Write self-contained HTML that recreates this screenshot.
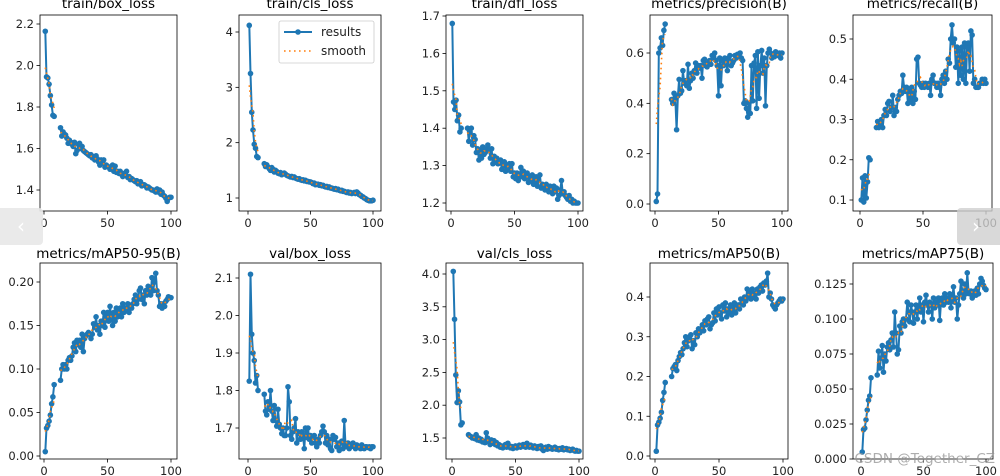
<!DOCTYPE html>
<html><head><meta charset="utf-8"><style>
html,body{margin:0;padding:0;background:#fff;}
svg{display:block;font-family:"DejaVu Sans","Liberation Sans",sans-serif;}
</style></head><body>
<svg id="chart" width="1000" height="476" viewBox="0 0 1000 476" xmlns="http://www.w3.org/2000/svg">
<rect width="1000" height="476" fill="#fff"/>
</svg>
<script>
const N=null;
const trainBoxLoss=[2.165,1.945,1.94,1.91,1.855,1.81,1.76,1.755,N,N,N,N,1.70,1.66,1.68,1.67,1.665,1.65,1.625,1.64,1.63,1.62,1.61,1.63,1.575,1.59,1.62,1.625,1.60,1.61,1.59,1.585,1.58,1.575,1.57,1.565,1.57,1.555,1.56,1.545,1.565,1.55,1.535,1.52,1.545,1.53,1.545,1.51,1.52,1.515,1.51,1.50,1.505,1.52,1.49,1.515,1.485,1.49,1.48,1.49,1.475,1.465,1.48,1.47,1.49,1.46,1.465,1.45,1.455,1.45,1.445,1.44,1.445,1.43,1.43,1.44,1.42,1.425,1.425,1.42,1.41,1.415,1.41,1.405,1.40,1.40,1.395,1.39,1.405,1.39,1.40,1.38,1.39,1.375,1.37,1.36,1.345,1.36,1.365,1.365];
const trainClsLoss=[4.12,3.25,2.55,2.23,1.97,1.90,1.75,1.73,N,N,N,N,1.62,1.57,1.60,1.56,1.53,1.50,1.55,1.52,1.47,1.50,1.48,1.45,1.44,1.46,1.42,1.44,1.45,1.43,1.41,1.40,1.39,1.38,1.39,1.37,1.38,1.36,1.35,1.34,1.35,1.33,1.32,1.33,1.31,1.32,1.30,1.30,1.29,1.29,1.28,1.26,1.27,1.24,1.25,1.25,1.23,1.24,1.22,1.23,1.21,1.20,1.21,1.19,1.20,1.18,1.18,1.17,1.16,1.17,1.15,1.16,1.14,1.13,1.14,1.12,1.12,1.11,1.10,1.11,1.09,1.10,1.08,1.09,1.10,1.08,1.11,1.09,1.06,1.05,1.03,1.02,1.00,0.99,0.97,0.96,0.95,0.95,0.95,0.96];
const trainDflLoss=[1.68,1.47,1.45,1.475,1.42,1.435,1.39,1.40,N,N,N,N,1.40,1.365,1.39,1.40,1.355,1.38,1.37,1.335,1.345,1.315,1.34,1.32,1.35,1.33,1.335,1.345,1.355,1.34,1.32,1.345,1.305,1.325,1.31,1.32,1.305,1.31,1.315,1.29,1.30,1.31,1.285,1.30,1.295,1.305,1.285,1.305,1.27,1.28,1.265,1.28,1.26,1.27,1.295,1.27,1.285,1.265,1.275,1.28,1.255,1.27,1.26,1.275,1.25,1.26,1.27,1.245,1.26,1.275,1.24,1.25,1.245,1.235,1.25,1.24,1.23,1.245,1.24,1.225,1.245,1.23,1.24,1.21,1.22,1.235,1.26,1.225,1.23,1.22,1.215,1.21,1.22,1.205,1.21,1.20,1.205,1.20,1.20,1.20];
const precision=[0.01,0.04,0.60,0.62,0.66,0.63,0.69,0.715,N,N,N,N,0.415,0.40,0.44,0.42,0.295,0.43,0.495,0.44,0.45,0.53,0.48,0.49,0.47,0.555,0.46,0.49,0.52,0.50,0.53,0.56,0.52,0.55,0.54,0.55,0.50,0.57,0.575,0.55,0.545,0.56,0.57,0.555,0.59,0.58,0.60,0.57,0.55,0.43,0.58,0.47,0.57,0.55,0.58,0.57,0.53,0.58,0.59,0.55,0.56,0.57,0.59,0.58,0.595,0.59,0.60,0.58,0.57,0.40,0.41,0.38,0.345,0.40,0.36,0.55,0.41,0.56,0.59,0.38,0.605,0.42,0.55,0.61,0.52,0.58,0.39,0.55,0.60,0.615,0.60,0.58,0.59,0.585,0.605,0.595,0.59,0.60,0.58,0.60];
const recall=[0.10,0.155,0.095,0.16,0.105,0.145,0.205,0.20,N,N,N,N,0.28,0.295,0.28,0.29,0.30,0.28,0.31,0.325,0.31,0.34,0.345,0.32,0.33,0.36,0.31,0.33,0.32,0.35,0.36,0.37,0.365,0.41,0.38,0.37,0.38,0.34,0.37,0.35,0.38,0.34,0.37,0.35,0.45,0.455,0.39,0.385,0.38,0.39,0.38,0.39,0.385,0.38,0.39,0.36,0.40,0.41,0.39,0.39,0.38,0.39,0.38,0.36,0.40,0.41,0.39,0.42,0.40,0.45,0.44,0.50,0.535,0.49,0.50,0.43,0.48,0.39,0.47,0.41,0.48,0.40,0.49,0.39,0.48,0.49,0.42,0.52,0.51,0.39,0.40,0.38,0.38,0.38,0.39,0.39,0.40,0.39,0.40,0.39];
const map5095=[0.005,0.032,0.035,0.04,0.047,0.06,0.068,0.082,N,N,N,N,0.087,0.10,0.105,0.10,0.105,0.10,0.11,0.113,0.11,0.115,0.125,0.13,0.12,0.133,0.128,0.133,0.125,0.14,0.12,0.135,0.138,0.14,0.142,0.14,0.135,0.14,0.152,0.148,0.16,0.145,0.15,0.14,0.155,0.15,0.165,0.148,0.16,0.165,0.155,0.172,0.16,0.15,0.165,0.155,0.17,0.16,0.165,0.17,0.16,0.175,0.165,0.17,0.168,0.175,0.165,0.172,0.17,0.175,0.18,0.185,0.175,0.18,0.19,0.193,0.18,0.185,0.175,0.19,0.185,0.195,0.19,0.185,0.205,0.19,0.20,0.21,0.19,0.185,0.172,0.175,0.17,0.175,0.172,0.178,0.18,0.183,0.182,0.182];
const valBoxLoss=[1.825,2.11,1.95,1.90,1.88,1.82,1.84,1.80,N,N,N,N,1.79,1.745,1.735,1.77,1.75,1.80,1.745,1.72,1.76,1.72,1.705,1.75,1.71,1.70,1.685,1.70,1.68,1.68,1.70,1.81,1.77,1.68,1.67,1.69,1.70,1.725,1.66,1.69,1.685,1.67,1.69,1.68,1.645,1.70,1.675,1.70,1.67,1.68,1.66,1.675,1.68,1.66,1.65,1.67,1.66,1.68,1.69,1.705,1.69,1.66,1.68,1.655,1.67,1.645,1.64,1.68,1.67,1.675,1.65,1.66,1.64,1.66,1.665,1.645,1.72,1.655,1.65,1.66,1.645,1.65,1.655,1.66,1.65,1.645,1.655,1.65,1.65,1.645,1.655,1.65,1.645,1.65,1.65,1.648,1.65,1.645,1.65,1.65];
const valClsLoss=[4.04,3.31,2.46,2.04,2.22,2.05,1.70,1.73,N,N,N,N,1.55,1.53,1.52,1.50,1.51,1.49,1.55,1.47,1.50,1.46,1.48,1.44,1.45,1.43,1.58,1.50,1.44,1.40,1.47,1.42,1.46,1.40,1.43,1.38,1.40,1.36,1.38,1.35,1.37,1.40,1.36,1.42,1.38,1.35,1.37,1.34,1.36,1.38,1.35,1.37,1.39,1.36,1.38,1.40,1.37,1.36,1.42,1.38,1.36,1.39,1.37,1.35,1.38,1.36,1.34,1.37,1.35,1.38,1.33,1.31,1.35,1.36,1.33,1.37,1.34,1.35,1.33,1.34,1.36,1.33,1.34,1.32,1.34,1.33,1.35,1.32,1.33,1.34,1.32,1.33,1.31,1.32,1.33,1.31,1.30,1.31,1.30,1.30];
const map50=[0.012,0.078,0.085,0.095,0.11,0.14,0.16,0.185,N,N,N,N,0.20,0.22,0.225,0.23,0.215,0.24,0.25,0.26,0.255,0.27,0.285,0.30,0.275,0.29,0.30,0.305,0.27,0.29,0.28,0.31,0.30,0.32,0.31,0.32,0.33,0.315,0.34,0.33,0.345,0.35,0.32,0.33,0.335,0.36,0.34,0.37,0.355,0.375,0.36,0.345,0.38,0.365,0.385,0.35,0.37,0.36,0.38,0.355,0.37,0.385,0.36,0.375,0.38,0.37,0.395,0.385,0.38,0.40,0.39,0.42,0.40,0.415,0.395,0.42,0.40,0.41,0.395,0.42,0.41,0.425,0.43,0.415,0.435,0.43,0.44,0.46,0.40,0.41,0.395,0.38,0.375,0.37,0.38,0.385,0.39,0.395,0.39,0.395];
const map75=[0.005,0.021,0.022,0.028,0.035,0.042,0.045,0.058,N,N,N,N,0.06,0.077,0.065,0.072,0.081,0.062,0.075,0.07,0.08,0.083,0.078,0.085,0.09,0.08,0.105,0.09,0.075,0.078,0.095,0.09,0.098,0.10,0.095,0.10,0.112,0.105,0.098,0.11,0.105,0.097,0.105,0.11,0.10,0.108,0.115,0.105,0.11,0.098,0.112,0.117,0.11,0.105,0.112,0.11,0.10,0.115,0.108,0.112,0.11,0.115,0.099,0.112,0.115,0.11,0.118,0.112,0.115,0.112,0.118,0.108,0.115,0.123,0.112,0.115,0.10,0.11,0.118,0.127,0.12,0.115,0.125,0.118,0.133,0.12,0.118,0.12,0.115,0.118,0.12,0.117,0.122,0.118,0.125,0.129,0.127,0.124,0.122,0.121];
const xTicks=[0,50,100];
const titles=["train/box_loss","train/cls_loss","train/dfl_loss","metrics/precision(B)","metrics/recall(B)","metrics/mAP50-95(B)","val/box_loss","val/cls_loss","metrics/mAP50(B)","metrics/mAP75(B)"];
const series=[trainBoxLoss,trainClsLoss,trainDflLoss,precision,recall,map5095,valBoxLoss,valClsLoss,map50,map75];
const yTickSets=[[1.4,1.6,1.8,2.0,2.2],[1,2,3,4],[1.2,1.3,1.4,1.5,1.6,1.7],[0.0,0.2,0.4,0.6],[0.1,0.2,0.3,0.4,0.5],[0.00,0.05,0.10,0.15,0.20],[1.7,1.8,1.9,2.0,2.1],[1.5,2.0,2.5,3.0,3.5,4.0],[0.0,0.1,0.2,0.3,0.4],[0.000,0.025,0.050,0.075,0.100,0.125]];
const yDecimals=[1,0,1,1,1,2,1,1,1,3];
const layout=[
 {f:[40,15,177,211],x0:44,x1:171,cal:[2.2,24,1.4,190]},
 {f:[239,15,381,211],x0:248,x1:373,cal:[4,32,1,198]},
 {f:[446,15,583,211],x0:451,x1:578,cal:[1.7,16,1.2,203]},
 {f:[650,15,788,211],x0:655,x1:782,cal:[0.6,53,0.0,204]},
 {f:[853,15,992,211],x0:860,x1:986,cal:[0.5,39,0.1,200]},
 {f:[40,263,177,459],x0:44,x1:171,cal:[0.2,282,0.0,456]},
 {f:[239,263,381,459],x0:248,x1:373,cal:[2.1,278,1.7,428]},
 {f:[446,263,583,459],x0:452,x1:579,cal:[4.0,274,1.5,438]},
 {f:[650,263,788,459],x0:655,x1:783,cal:[0.4,297,0.0,456]},
 {f:[853,263,993,459],x0:861,x1:986,cal:[0.125,284,0.0,459]}
];
const NS="http://www.w3.org/2000/svg";
const svg=document.getElementById('chart');
function mk(tag,attrs,parent){const e=document.createElementNS(NS,tag);for(const k in attrs)e.setAttribute(k,attrs[k]);(parent||svg).appendChild(e);return e;}
function smooth(arr){const out=[];const k=3;for(let i=0;i<arr.length;i++){if(arr[i]===null){out.push(null);continue;}let s=0,c=0;for(let j=i-k;j<=i+k;j++){if(j>=0&&j<arr.length&&arr[j]!==null){s+=arr[j];c++;}}out.push(s/c);}return out;}
function pathFor(arr,xs,ys){let d="",pen=false;arr.forEach((v,i)=>{if(v===null){pen=false;return;}d+=(pen?"L":"M")+xs(i+1).toFixed(1)+","+ys(v).toFixed(1);pen=true;});return d;}
series.forEach((data,idx)=>{
 const L=layout[idx];const [l,t,r,b]=L.f;
 const xs=e=>L.x0+(L.x1-L.x0)*e/100;
 const [v1,p1,v2,p2]=L.cal;const ys=v=>p1+(v-v1)*(p2-p1)/(v2-v1);
 const g=mk('g',{});
 
 
 const clipId='c'+idx;
 const cp=mk('clipPath',{id:clipId},g);mk('rect',{x:l,y:t,width:r-l,height:b-t},cp);
 const tt=mk('text',{x:(l+r)/2,y:(idx<5?t-7:t-5),'text-anchor':'middle','font-size':'13.5',fill:'#000'},g);tt.textContent=titles[idx];
 
 
 const yt=mk('g',{},g);
 
 
 yTickSets[idx].forEach(v=>{const y=ys(v);mk('line',{x1:l-3.5,x2:l,y1:y,y2:y,stroke:'#000','stroke-width':0.8},yt);
  const tx=mk('text',{x:l-6,y:y+4,'text-anchor':'end','font-size':'11.5',fill:'#222'},yt);tx.textContent=v.toFixed(yDecimals[idx]);});
 const xt=mk('g',{},g);
 
 
 xTicks.forEach(e=>{const x=xs(e);mk('line',{x1:x,x2:x,y1:b,y2:b+3.5,stroke:'#000','stroke-width':0.8},xt);
  const tx=mk('text',{x:x,y:b+16,'text-anchor':'middle','font-size':'11.5',fill:'#222'},xt);tx.textContent=e;});
 const pg=mk('g',{'clip-path':'url(#'+clipId+')'},g);
 const line=mk('path',{d:pathFor(data,xs,ys),fill:'none',stroke:'#1f77b4','stroke-width':2,'stroke-linejoin':'round'},pg);
 
 
 data.forEach((v,i)=>{if(v===null)return;const c=mk('circle',{cx:xs(i+1),cy:ys(v),r:2.8,fill:'#1f77b4'},pg);
  
  });
 const sm=mk('path',{d:pathFor(smooth(data),xs,ys),fill:'none',stroke:'#ff7f0e','stroke-width':1.6,'stroke-dasharray':'1.6,3.4'},pg);
 
 
 const fr=mk('rect',{x:l,y:t,width:r-l,height:b-t,fill:'none',stroke:'#000','stroke-width':0.8},g);
 
 
});
const lg=mk('g',{});


mk('rect',{x:279,y:21,width:95,height:42,rx:2,fill:'#fff','fill-opacity':0.85,stroke:'#ccc','stroke-width':0.8},lg);
const le1=mk('g',{},lg);


mk('line',{x1:284,x2:312,y1:32,y2:32,stroke:'#1f77b4','stroke-width':2},le1);
mk('circle',{cx:298,cy:32,r:2.8,fill:'#1f77b4'},le1);
const t1=mk('text',{x:321,y:36,'font-size':'12',fill:'#222'},le1);t1.textContent='results';
const le2=mk('g',{},lg);


mk('line',{x1:284,x2:312,y1:51,y2:51,stroke:'#ff7f0e','stroke-width':1.6,'stroke-dasharray':'1.6,3.4'},le2);
const t2=mk('text',{x:321,y:55,'font-size':'12',fill:'#222'},le2);t2.textContent='smooth';
const pb=mk('g',{});


mk('rect',{x:-4,y:208,width:47,height:37,rx:4,fill:'#e8e8e8','fill-opacity':0.9},pb);
const pt=mk('text',{x:21,y:233,'text-anchor':'middle','font-size':'20',fill:'#fff'},pb);pt.textContent='‹';
const nb=mk('g',{});


mk('rect',{x:957,y:208,width:47,height:37,rx:4,fill:'#d0d0d0','fill-opacity':0.8},nb);
const nt=mk('text',{x:976,y:233,'text-anchor':'middle','font-size':'20',fill:'#fff'},nb);nt.textContent='›';
const wm=mk('text',{x:995,y:463,'text-anchor':'end','font-size':'13.5',fill:'#999','fill-opacity':0.8},svg);
wm.textContent='CSDN @Together_CZ';


</script>
</body></html>
